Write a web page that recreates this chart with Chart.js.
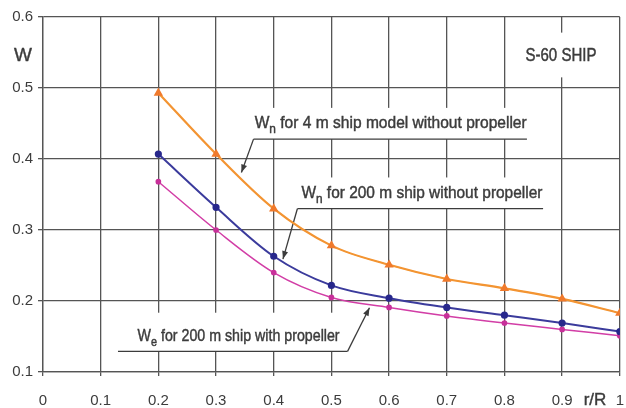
<!DOCTYPE html>
<html>
<head>
<meta charset="utf-8">
<script src="https://cdn.jsdelivr.net/npm/chart.js@4"></script>
<style>
  html, body { margin: 0; padding: 0; background: #fff; }
  #grafico { display: block; }
</style>
</head>
<body>
<canvas id="grafico" width="626" height="408"></canvas>
<script>
// radial position r/R and wake fraction for each curve
const rR = [0.2, 0.3, 0.4, 0.5, 0.6, 0.7, 0.8, 0.9, 1.0];
const wModelo = [0.493, 0.407, 0.330, 0.278, 0.251, 0.231, 0.218, 0.203, 0.183];
const wNavio = [0.407, 0.332, 0.263, 0.222, 0.204, 0.191, 0.180, 0.169, 0.157];
const wEfetivo = [0.368, 0.300, 0.240, 0.205, 0.191, 0.179, 0.169, 0.160, 0.151];
const ticksX = [0, 0.1, 0.2, 0.3, 0.4, 0.5, 0.6, 0.7, 0.8, 0.9, 1];
const ticksY = [0.1, 0.2, 0.3, 0.4, 0.5, 0.6];

const corTexto = "#3c3c3c";
const corGrade = "#555";
const familia = "'Liberation Sans', Arial, sans-serif";

function pontos(ys) {
  return rR.map((x, i) => ({ x: x, y: ys[i] }));
}

// annotations: text with subscript, underline and a leader arrow
const notas = [
  { partes: [["W", 0], ["n", 1], [" for 4 m ship model without propeller", 0]],
    xTexto: 0.367, yBase: 0.444, largura: 272, topo: 0.472,
    linha: [0.365, 0.839, 0.428], de: [0.365, 0.428], ponta: [0.344, 0.381] },
  { partes: [["W", 0], ["n", 1], [" for 200 m ship without propeller", 0]],
    xTexto: 0.448, yBase: 0.3455, largura: 241, topo: 0.374,
    linha: [0.441, 0.867, 0.330], de: [0.441, 0.330], ponta: [0.416, 0.259] },
  { partes: [["W", 0], ["e", 1], [" for 200 m ship with propeller", 0]],
    xTexto: 0.164, yBase: 0.144, largura: 202, topo: 0.1835,
    linha: [0.130, 0.528, 0.129], de: [0.528, 0.129], ponta: [0.566, 0.1906] }
];

function fonte(sub) {
  return (sub ? "13px " : "17px ") + familia;
}

// filled text with a thin outline so it reads a bit heavier
function texto(ctx, s, x, y) {
  ctx.fillText(s, x, y);
  ctx.strokeText(s, x, y);
}

function seta(ctx, x0, y0, x1, y1) {
  ctx.beginPath();
  ctx.moveTo(x0, y0);
  ctx.lineTo(x1, y1);
  ctx.stroke();
  const ang = Math.atan2(y1 - y0, x1 - x0);
  const L = 8, W = 3;
  ctx.beginPath();
  ctx.moveTo(x1, y1);
  ctx.lineTo(x1 - L * Math.cos(ang) + W * Math.sin(ang), y1 - L * Math.sin(ang) - W * Math.cos(ang));
  ctx.lineTo(x1 - L * Math.cos(ang) - W * Math.sin(ang), y1 - L * Math.sin(ang) + W * Math.cos(ang));
  ctx.closePath();
  ctx.fill();
}

const pluginNotas = {
  id: "notas",
  beforeDatasetsDraw(chart) {
    const ctx = chart.ctx;
    const sx = chart.scales.x, sy = chart.scales.y;
    ctx.save();
    ctx.strokeStyle = corTexto;

    notas.forEach(n => {
      const xa = sx.getPixelForValue(n.linha[0]);
      const xb = sx.getPixelForValue(n.linha[1]);
      const yl = sy.getPixelForValue(n.linha[2]);
      const yt = sy.getPixelForValue(n.topo);
      ctx.fillStyle = "#fff";
      ctx.fillRect(xa, yt, xb - xa, yl - yt);

      // underline
      ctx.lineWidth = 1.3;
      ctx.beginPath();
      ctx.moveTo(xa, yl);
      ctx.lineTo(xb, yl);
      ctx.stroke();

      // text squeezed to its width
      let total = 0;
      n.partes.forEach(p => { ctx.font = fonte(p[1]); total += ctx.measureText(p[0]).width; });
      const esc = n.largura / total;
      ctx.save();
      ctx.translate(sx.getPixelForValue(n.xTexto), sy.getPixelForValue(n.yBase));
      ctx.scale(esc, 1);
      ctx.fillStyle = corTexto;
      ctx.lineWidth = 0.45;
      ctx.textBaseline = "alphabetic";
      let x = 0;
      n.partes.forEach(p => {
        ctx.font = fonte(p[1]);
        texto(ctx, p[0], x, p[1] ? 5 : 0);
        x += ctx.measureText(p[0]).width;
      });
      ctx.restore();

      ctx.fillStyle = corTexto;
      ctx.lineWidth = 1.3;
      seta(ctx, sx.getPixelForValue(n.de[0]), sy.getPixelForValue(n.de[1]),
        sx.getPixelForValue(n.ponta[0]), sy.getPixelForValue(n.ponta[1]));
    });

    // ship label
    const bx0 = sx.getPixelForValue(0.829), bx1 = sx.getPixelForValue(0.967);
    const by0 = sy.getPixelForValue(0.578), by1 = sy.getPixelForValue(0.515);
    ctx.fillStyle = "#fff";
    ctx.fillRect(bx0, by0, bx1 - bx0, by1 - by0);
    ctx.font = "19px " + familia;
    const wS = ctx.measureText("S-60 SHIP").width;
    ctx.save();
    ctx.translate(sx.getPixelForValue(0.898), sy.getPixelForValue(0.538));
    ctx.scale(71 / wS, 1);
    ctx.fillStyle = corTexto;
    ctx.lineWidth = 0.5;
    ctx.textAlign = "center";
    texto(ctx, "S-60 SHIP", 0, 0);
    ctx.restore();

    // axis titles
    ctx.fillStyle = corTexto;
    ctx.lineWidth = 0.4;
    ctx.textAlign = "center";
    ctx.textBaseline = "middle";
    ctx.font = "19px " + familia;
    texto(ctx, "W", 23, 56);
    ctx.font = "17px " + familia;
    texto(ctx, "r/R", 595, 400);
    ctx.restore();
  }
};

new Chart(document.getElementById("grafico"), {
  type: "line",
  data: {
    datasets: [
      {
        label: "Wn 4 m model",
        data: pontos(wModelo),
        borderColor: "#f39432",
        borderWidth: 2.2,
        pointStyle: "triangle",
        pointRadius: 3.2,
        pointBackgroundColor: "#f07a2c",
        pointBorderColor: "#f07a2c",
        cubicInterpolationMode: "monotone"
      },
      {
        label: "Wn 4 m model core",
        data: pontos(wModelo),
        borderColor: "#f9c451",
        borderWidth: 0.9,
        pointRadius: 0,
        cubicInterpolationMode: "monotone"
      },
      {
        label: "Wn 200 m",
        data: pontos(wNavio),
        borderColor: "#3b3b9c",
        borderWidth: 2,
        pointStyle: "circle",
        pointRadius: 2.6,
        pointBackgroundColor: "#28288c",
        pointBorderColor: "#28288c",
        cubicInterpolationMode: "monotone"
      },
      {
        label: "We 200 m",
        data: pontos(wEfetivo),
        borderColor: "#d23ea6",
        borderWidth: 1.5,
        pointStyle: "circle",
        pointRadius: 2.1,
        pointBackgroundColor: "#c8309a",
        pointBorderColor: "#c8309a",
        cubicInterpolationMode: "monotone"
      }
    ]
  },
  options: {
    responsive: false,
    animation: false,
    layout: { padding: { top: 17, right: 5, left: 0, bottom: 0 } },
    plugins: {
      legend: { display: false },
      tooltip: { enabled: false }
    },
    scales: {
      x: {
        type: "linear",
        min: 0,
        max: 1,
        afterBuildTicks: s => { s.ticks = ticksX.map(v => ({ value: v })); },
        afterFit: s => { s.height = 36; s.paddingLeft = 0; s.paddingRight = 0; },
        grid: { color: corGrade, lineWidth: 1.3, tickLength: 4 },
        border: { color: corGrade, width: 1.3 },
        ticks: {
          color: corTexto,
          padding: 16,
          maxRotation: 0,
          font: { family: familia, size: 15 },
          callback: v => String(v)
        }
      },
      y: {
        min: 0.1,
        max: 0.6,
        afterBuildTicks: s => { s.ticks = ticksY.map(v => ({ value: v })); },
        afterFit: s => { s.width = 43; s.paddingTop = 0; s.paddingBottom = 0; },
        grid: { color: corGrade, lineWidth: 1.3, tickLength: 5 },
        border: { color: corGrade, width: 1.3 },
        ticks: {
          color: corTexto,
          padding: 5,
          font: { family: familia, size: 15 },
          callback: v => v.toFixed(1)
        }
      }
    }
  },
  plugins: [pluginNotas]
});
</script>
</body>
</html>
